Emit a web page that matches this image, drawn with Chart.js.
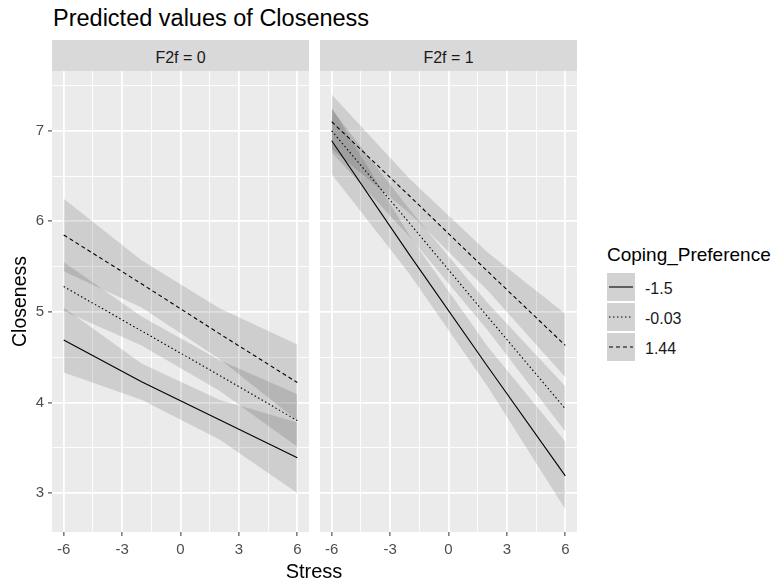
<!DOCTYPE html>
<html>
<head>
<meta charset="utf-8">
<script src="https://cdn.jsdelivr.net/npm/chart.js@4"></script>
<style>
  body { margin: 0; width: 772px; height: 582px; background: #fff; position: relative; overflow: hidden;
         font-family: "Liberation Sans", Arial, sans-serif; }
  .abs { position: absolute; white-space: nowrap; line-height: 1; }
  #title { left: 53px; top: 7px; font-size: 23.5px; color: #000; }
  .strip { top: 40px; height: 31px; width: 257px; background: #d9d9d9; }
  .strip span { position: absolute; left: 0; right: 0; top: 10px; text-align: center; font-size: 16px; line-height: 1; color: #1a1a1a; }
  #xtitle { left: 214px; width: 200px; text-align: center; top: 561px; font-size: 20px; color: #000; }
  #legtitle { left: 607px; top: 245px; font-size: 19px; color: #000; }
  .key { left: 607px; width: 28px; height: 28px; background: #d2d2d2; }
  .keylab { left: 645px; font-size: 16px; color: #1a1a1a; }
  canvas { position: absolute; }
</style>
</head>
<body>
<div id="title" class="abs">Predicted values of Closeness</div>
<div class="abs strip" style="left:52px"><span>F2f = 0</span></div>
<div class="abs strip" style="left:320px"><span>F2f = 1</span></div>
<div style="position:absolute;left:0;top:71px;width:312px;height:511px"><canvas id="left"></canvas></div>
<div style="position:absolute;left:317px;top:71px;width:263px;height:511px"><canvas id="right"></canvas></div>
<div id="xtitle" class="abs">Stress</div>
<div id="legtitle" class="abs">Coping_Preference</div>
<div id="legend"></div>

<script>
// Stress values where predictions were taken
const stress = [-6, -2, 2, 6];
const groups = ['-1.5', '-0.03', '1.44'];
const dashes = [[], [1.5, 2.5], [4, 3]];

const xTicks = [-6, -3, 0, 3, 6];
const yTicks = [3, 4, 5, 6, 7];

// F2f = 0
const f0Fit  = [[4.69, 4.23, 3.81, 3.39], [5.28, 4.79, 4.30, 3.80], [5.85, 5.31, 4.76, 4.22]];
const f0Low  = [[4.33, 4.03, 3.59, 3.00], [5.01, 4.63, 4.13, 3.51], [5.45, 5.05, 4.48, 3.80]];
const f0High = [[5.05, 4.43, 4.03, 3.78], [5.55, 4.95, 4.47, 4.09], [6.25, 5.57, 5.04, 4.64]];

// F2f = 1
const f1Fit  = [[6.89, 5.63, 4.40, 3.19], [7.00, 5.98, 4.95, 3.93], [7.10, 6.28, 5.45, 4.63]];
const f1Low  = [[6.52, 5.42, 4.18, 2.82], [6.76, 5.83, 4.80, 3.68], [6.80, 6.09, 5.24, 4.28]];
const f1High = [[7.26, 5.84, 4.62, 3.57], [7.24, 6.13, 5.10, 4.18], [7.40, 6.47, 5.66, 4.98]];

const FONT = '"Liberation Sans", Arial, sans-serif';
const band = 'rgba(0,0,0,0.12)';

const pts = arr => stress.map((x, i) => ({ x: x, y: arr[i] }));

function makeDatasets(fit, low, high) {
  const out = [];
  groups.forEach((g, k) => {
    out.push({ label: g + ' hi', data: pts(high[k]), fill: '+1', backgroundColor: band, borderWidth: 0, pointRadius: 0 });
    out.push({ label: g + ' lo', data: pts(low[k]), fill: false, borderWidth: 0, pointRadius: 0 });
    out.push({ label: g, data: pts(fit[k]), fill: false, borderColor: '#000', borderWidth: 1.1,
               borderDash: dashes[k], pointRadius: 0, tension: 0 });
  });
  return out;
}

const panelBg = {
  id: 'panelBg',
  beforeDraw(chart) {
    const { ctx, chartArea: a } = chart;
    ctx.save();
    ctx.fillStyle = '#ebebeb';
    ctx.fillRect(a.left, a.top, a.right - a.left, a.bottom - a.top);
    ctx.restore();
  }
};

function halfSteps(ticks) {
  const out = [];
  const step = ticks[1] - ticks[0];
  ticks.forEach(t => { out.push(t); out.push(t + step / 2); });
  return out;
}

function noPad(s) {
  s.paddingTop = 0; s.paddingBottom = 0; s.paddingLeft = 0; s.paddingRight = 0;
}

function makeChart(id, fit, low, high, showY) {
  const ctx = document.getElementById(id).getContext('2d');
  return new Chart(ctx, {
    type: 'line',
    data: { datasets: makeDatasets(fit, low, high) },
    plugins: [panelBg],
    options: {
      responsive: true,
      maintainAspectRatio: false,
      animation: false,
      events: [],
      layout: { padding: { left: showY ? 0 : 3, right: 3, top: 0, bottom: 0 } },
      plugins: {
        legend: { display: false },
        tooltip: { enabled: false },
        filler: { drawTime: 'beforeDatasetsDraw' }
      },
      scales: {
        x: {
          type: 'linear',
          min: -6.6,
          max: 6.6,
          afterBuildTicks: s => { s.ticks = [-7.5].concat(halfSteps(xTicks)).filter(v => v > -6.6 && v < 6.6).map(v => ({ value: v })); },
          afterFit: s => { s.height = 50; noPad(s); },
          border: { display: false },
          grid: {
            color: '#ffffff',
            lineWidth: c => (c.tick && c.tick.value % 3 === 0) ? 1.8 : 0.9,
            tickColor: c => (c.tick && c.tick.value % 3 === 0) ? '#333333' : 'rgba(0,0,0,0)',
            tickLength: 4,
            tickWidth: 1
          },
          ticks: {
            autoSkip: false,
            maxRotation: 0,
            padding: 5,
            color: '#4d4d4d',
            font: { family: FONT, size: 15 },
            callback: v => (v % 3 === 0) ? String(v) : ''
          }
        },
        y: {
          type: 'linear',
          min: 2.57,
          max: 7.66,
          afterBuildTicks: s => { s.ticks = halfSteps(yTicks).filter(v => v < 7.66).map(v => ({ value: v })); },
          afterFit: s => { s.width = showY ? 52 : 0; noPad(s); },
          border: { display: false },
          title: {
            display: showY,
            text: 'Closeness',
            color: '#000',
            font: { family: FONT, size: 19.5 },
            padding: { top: 9, bottom: 0 }
          },
          grid: {
            color: '#ffffff',
            lineWidth: c => (c.tick && Number.isInteger(c.tick.value)) ? 1.8 : 0.9,
            drawTicks: showY,
            tickColor: c => (c.tick && Number.isInteger(c.tick.value)) ? '#333333' : 'rgba(0,0,0,0)',
            tickLength: 4,
            tickWidth: 1
          },
          ticks: {
            display: showY,
            autoSkip: false,
            padding: 4,
            color: '#4d4d4d',
            font: { family: FONT, size: 15 },
            callback: v => Number.isInteger(v) ? String(v) : ''
          }
        }
      }
    }
  });
}

makeChart('left', f0Fit, f0Low, f0High, true);
makeChart('right', f1Fit, f1Low, f1High, false);

// legend keys
const leg = document.getElementById('legend');
const keyTops = [273, 303, 333];
groups.forEach((g, k) => {
  const key = document.createElement('div');
  key.className = 'abs key';
  key.style.top = keyTops[k] + 'px';
  const dash = dashes[k].length ? ' stroke-dasharray="' + dashes[k].join(' ') + '"' : '';
  key.innerHTML = '<svg width="28" height="28"><line x1="2" y1="14" x2="26" y2="14" stroke="#000" stroke-width="1.1"' + dash + '/></svg>';
  leg.appendChild(key);
  const lab = document.createElement('div');
  lab.className = 'abs keylab';
  lab.style.top = (keyTops[k] + 8) + 'px';
  lab.textContent = g;
  leg.appendChild(lab);
});
</script>
</body>
</html>
